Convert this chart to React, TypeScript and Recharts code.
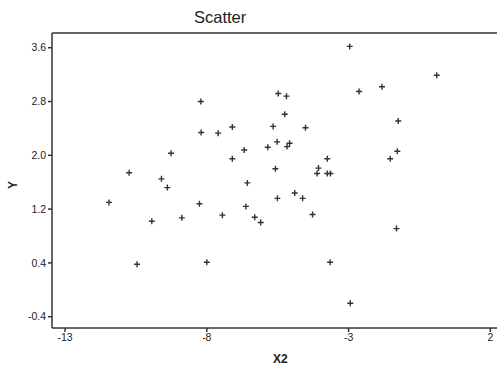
import React from "react";
import { ScatterChart, Scatter, XAxis, YAxis, ReferenceLine } from "recharts";

// values
const x2Values = [
  -11.45, -10.74, -10.46, -9.94, -9.6, -9.39, -9.26, -8.88, -8.26, -8.21,
  -8.2, -8.0, -7.6, -7.45, -7.1, -7.1, -6.68, -6.62, -6.57, -6.31,
  -6.1, -5.85, -5.66, -5.58, -5.52, -5.51, -5.48, -5.25, -5.19, -5.17,
  -5.08, -4.9, -4.62, -4.52, -4.27, -4.11, -4.06, -3.75, -3.75, -3.64,
  -3.65, -2.96, -2.94, -2.63, -1.82, -1.53, -1.28, -1.25, -1.31, 0.11,
];
const yValues = [
  1.3, 1.74, 0.38, 1.02, 1.65, 1.52, 2.03, 1.07, 1.28, 2.8,
  2.34, 0.41, 2.33, 1.11, 2.42, 1.95, 2.08, 1.24, 1.59, 1.08,
  1.0, 2.12, 2.43, 1.8, 2.2, 1.36, 2.92, 2.61, 2.88, 2.13,
  2.18, 1.44, 1.36, 2.41, 1.12, 1.73, 1.81, 1.95, 1.73, 1.73,
  0.41, 3.62, -0.2, 2.95, 3.02, 1.95, 2.06, 2.51, 0.91, 3.19,
];
const xTicks = [-13, -8, -3, 2];
const yTicks = [-0.4, 0.4, 1.2, 2.0, 2.8, 3.6];

const X_MIN = -13.46;
const X_MAX = 2.87;
const Y_MIN = -0.568;
const Y_MAX = 3.819;

const points = x2Values.map((x, i) => ({ x, y: yValues[i] }));

const INK = "#333";

function Plus(props: any) {
  const { cx, cy } = props;
  if (cx == null || cy == null) return null;
  return (
    <path
      d={`M${cx - 3},${cy}H${cx + 3}M${cx},${cy - 3}V${cy + 3}`}
      stroke={INK}
      strokeWidth={1.4}
      fill="none"
    />
  );
}

const tickStyle = { fontSize: 10.5, fill: "#222", fontFamily: "Liberation Sans, Arial, sans-serif" };

export default function App() {
  return (
    <div
      style={{
        position: "fixed",
        left: 0,
        top: 0,
        width: 497,
        height: 368,
        overflow: "hidden",
        background: "#fff",
        fontFamily: "Liberation Sans, Arial, sans-serif",
        color: "#222",
      }}
    >
      <div style={{ position: "absolute", left: 194, top: 8, fontSize: 16.5, whiteSpace: "nowrap" }}>Scatter</div>
      <ScatterChart width={520} height={368} margin={{ top: 33, right: 5, bottom: 0, left: 0 }}>
        <XAxis
          type="number"
          dataKey="x"
          domain={[X_MIN, X_MAX]}
          allowDataOverflow
          ticks={xTicks}
          interval={0}
          height={40}
          tickSize={4}
          stroke={INK}
          strokeWidth={1.5}
          tick={tickStyle}
        />
        <YAxis
          type="number"
          dataKey="y"
          domain={[Y_MIN, Y_MAX]}
          allowDataOverflow
          ticks={yTicks}
          interval={0}
          width={52}
          tickSize={4}
          stroke={INK}
          strokeWidth={1.5}
          tick={tickStyle}
          tickFormatter={(v: number) => v.toFixed(1)}
        />
        <ReferenceLine y={Y_MAX} stroke={INK} strokeWidth={1.5} />
        <Scatter data={points} shape={<Plus />} isAnimationActive={false} />
      </ScatterChart>
      <div style={{ position: "absolute", left: 273, top: 352, fontSize: 12, fontWeight: "bold" }}>X2</div>
      <div
        style={{
          position: "absolute",
          left: 9,
          top: 178,
          fontSize: 12,
          fontWeight: "bold",
          transform: "rotate(-90deg)",
          transformOrigin: "center",
        }}
      >
        Y
      </div>
    </div>
  );
}
